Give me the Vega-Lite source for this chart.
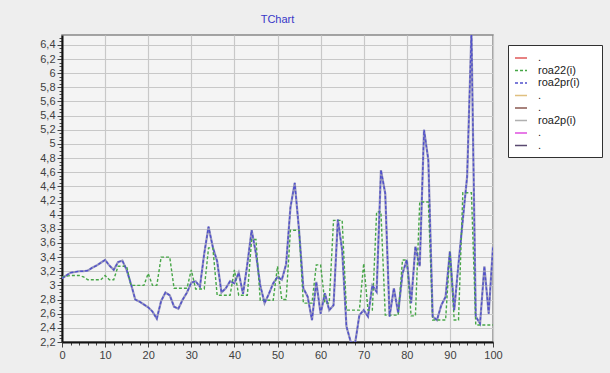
{
  "$schema": "https://vega.github.io/schema/vega-lite/v6.json",
  "width": 431,
  "height": 307,
  "autosize": {"type": "none"},
  "padding": {"left": 62, "top": 35, "right": 117, "bottom": 31},
  "background": "#eeeeee",
  "title": {"text": "TChart", "color": "#3838c8", "fontSize": 11, "font": "Liberation Sans", "fontWeight": "normal", "offset": 7},
  "config": {
    "view": {"fill": "#f4f4f4", "stroke": "#888888", "strokeWidth": 1.5},
    "axis": {"labelFont": "Liberation Sans", "labelFontSize": 11, "labelColor": "#404040", "domainColor": "#111111", "domainWidth": 2, "tickColor": "#444444", "gridColor": "#c8c8c8", "gridWidth": 1.2, "title": null, "labelOverlap": false, "tickCount": 500}
  },
  "data": {"values": [
    {"x":0,"roa22":3.12,"roa2pr":3.10},{"x":1,"roa22":3.13,"roa2pr":3.14},{"x":2,"roa22":3.14,"roa2pr":3.18},{"x":3,"roa22":3.14,"roa2pr":3.19},{"x":4,"roa22":3.14,"roa2pr":3.20},
    {"x":5,"roa22":3.12,"roa2pr":3.20},{"x":6,"roa22":3.08,"roa2pr":3.21},{"x":7,"roa22":3.08,"roa2pr":3.25},{"x":8,"roa22":3.08,"roa2pr":3.28},{"x":9,"roa22":3.08,"roa2pr":3.32},
    {"x":10,"roa22":3.14,"roa2pr":3.36},{"x":11,"roa22":3.08,"roa2pr":3.28},{"x":12,"roa22":3.08,"roa2pr":3.22},{"x":13,"roa22":3.27,"roa2pr":3.33},{"x":14,"roa22":3.27,"roa2pr":3.35},
    {"x":15,"roa22":3.27,"roa2pr":3.22},{"x":16,"roa22":3.00,"roa2pr":3.02},{"x":17,"roa22":3.00,"roa2pr":2.80},{"x":18,"roa22":3.00,"roa2pr":2.77},{"x":19,"roa22":3.00,"roa2pr":2.73},
    {"x":20,"roa22":3.17,"roa2pr":2.69},{"x":21,"roa22":3.00,"roa2pr":2.63},{"x":22,"roa22":3.00,"roa2pr":2.53},{"x":23,"roa22":3.40,"roa2pr":2.78},{"x":24,"roa22":3.40,"roa2pr":2.90},
    {"x":25,"roa22":3.40,"roa2pr":2.86},{"x":26,"roa22":2.96,"roa2pr":2.70},{"x":27,"roa22":2.96,"roa2pr":2.67},{"x":28,"roa22":2.96,"roa2pr":2.80},{"x":29,"roa22":2.96,"roa2pr":2.90},
    {"x":30,"roa22":3.22,"roa2pr":3.04},{"x":31,"roa22":2.95,"roa2pr":3.06},{"x":32,"roa22":2.95,"roa2pr":2.98},{"x":33,"roa22":2.95,"roa2pr":3.45},{"x":34,"roa22":3.53,"roa2pr":3.83},
    {"x":35,"roa22":3.53,"roa2pr":3.54},{"x":36,"roa22":2.86,"roa2pr":3.34},{"x":37,"roa22":2.86,"roa2pr":2.90},{"x":38,"roa22":2.86,"roa2pr":2.96},{"x":39,"roa22":2.86,"roa2pr":3.06},
    {"x":40,"roa22":3.22,"roa2pr":3.03},{"x":41,"roa22":2.86,"roa2pr":3.18},{"x":42,"roa22":2.86,"roa2pr":2.88},{"x":43,"roa22":2.86,"roa2pr":3.30},{"x":44,"roa22":3.65,"roa2pr":3.78},
    {"x":45,"roa22":3.65,"roa2pr":3.45},{"x":46,"roa22":2.79,"roa2pr":3.00},{"x":47,"roa22":2.79,"roa2pr":2.75},{"x":48,"roa22":2.79,"roa2pr":2.88},{"x":49,"roa22":2.79,"roa2pr":3.03},
    {"x":50,"roa22":3.27,"roa2pr":3.12},{"x":51,"roa22":2.80,"roa2pr":3.08},{"x":52,"roa22":2.80,"roa2pr":3.30},{"x":53,"roa22":3.78,"roa2pr":4.10},{"x":54,"roa22":3.78,"roa2pr":4.45},
    {"x":55,"roa22":3.78,"roa2pr":3.78},{"x":56,"roa22":2.75,"roa2pr":2.96},{"x":57,"roa22":2.75,"roa2pr":2.84},{"x":58,"roa22":2.75,"roa2pr":2.51},{"x":59,"roa22":3.29,"roa2pr":3.05},
    {"x":60,"roa22":3.29,"roa2pr":2.60},{"x":61,"roa22":2.75,"roa2pr":2.89},{"x":62,"roa22":2.75,"roa2pr":2.65},{"x":63,"roa22":3.92,"roa2pr":2.72},{"x":64,"roa22":3.92,"roa2pr":3.93},
    {"x":65,"roa22":3.92,"roa2pr":3.50},{"x":66,"roa22":2.65,"roa2pr":2.42},{"x":67,"roa22":2.65,"roa2pr":2.20},{"x":68,"roa22":2.65,"roa2pr":2.18},{"x":69,"roa22":2.65,"roa2pr":2.58},
    {"x":70,"roa22":3.31,"roa2pr":2.65},{"x":71,"roa22":2.65,"roa2pr":2.56},{"x":72,"roa22":2.65,"roa2pr":3.00},{"x":73,"roa22":4.04,"roa2pr":2.91},{"x":74,"roa22":4.04,"roa2pr":4.63},
    {"x":75,"roa22":2.58,"roa2pr":4.30},{"x":76,"roa22":2.58,"roa2pr":2.56},{"x":77,"roa22":2.58,"roa2pr":2.96},{"x":78,"roa22":2.58,"roa2pr":2.61},{"x":79,"roa22":3.36,"roa2pr":3.17},
    {"x":80,"roa22":3.36,"roa2pr":3.36},{"x":81,"roa22":2.57,"roa2pr":2.75},{"x":82,"roa22":2.57,"roa2pr":3.55},{"x":83,"roa22":4.18,"roa2pr":3.27},{"x":84,"roa22":4.18,"roa2pr":5.20},
    {"x":85,"roa22":4.18,"roa2pr":4.77},{"x":86,"roa22":2.51,"roa2pr":2.56},{"x":87,"roa22":2.51,"roa2pr":2.51},{"x":88,"roa22":2.51,"roa2pr":2.72},{"x":89,"roa22":2.51,"roa2pr":2.84},
    {"x":90,"roa22":3.48,"roa2pr":3.48},{"x":91,"roa22":2.51,"roa2pr":2.65},{"x":92,"roa22":2.51,"roa2pr":3.31},{"x":93,"roa22":4.31,"roa2pr":3.93},{"x":94,"roa22":4.31,"roa2pr":4.54},
    {"x":95,"roa22":4.31,"roa2pr":6.60},{"x":96,"roa22":2.44,"roa2pr":2.56},{"x":97,"roa22":2.44,"roa2pr":2.46},{"x":98,"roa22":2.44,"roa2pr":3.27},{"x":99,"roa22":2.44,"roa2pr":2.60},
    {"x":100,"roa22":2.44,"roa2pr":3.55}
  ]},
  "encoding": {
    "x": {"field": "x", "type": "quantitative", "scale": {"domain": [0, 100], "nice": false},
      "axis": {"values": [0,2,4,6,8,10,12,14,16,18,20,22,24,26,28,30,32,34,36,38,40,42,44,46,48,50,52,54,56,58,60,62,64,66,68,70,72,74,76,78,80,82,84,86,88,90,92,94,96,98,100],
        "tickCount": 500, "format": "d",
        "labelExpr": "datum.value % 10 == 0 ? '' + datum.value : ''",
        "gridOpacity": {"condition": {"test": "datum.value % 10 == 0", "value": 1}, "value": 0},
        "tickSize": {"condition": {"test": "datum.value % 10 == 0", "value": 5}, "value": 3},
        "labelPadding": 2, "labelFlush": false, "labelOverlap": false}}
  },
  "layer": [
    {
      "mark": {"type": "line", "color": "#9494bc", "strokeWidth": 2.2, "clip": true},
      "encoding": {
        "y": {"field": "roa2pr", "type": "quantitative", "scale": {"domain": [2.2, 6.54], "nice": false, "zero": false},
          "axis": {"values": [2.2,2.25,2.3,2.35,2.4,2.45,2.5,2.55,2.6,2.65,2.7,2.75,2.8,2.85,2.9,2.95,3,3.05,3.1,3.15,3.2,3.25,3.3,3.35,3.4,3.45,3.5,3.55,3.6,3.65,3.7,3.75,3.8,3.85,3.9,3.95,4,4.05,4.1,4.15,4.2,4.25,4.3,4.35,4.4,4.45,4.5,4.55,4.6,4.65,4.7,4.75,4.8,4.85,4.9,4.95,5,5.05,5.1,5.15,5.2,5.25,5.3,5.35,5.4,5.45,5.5,5.55,5.6,5.65,5.7,5.75,5.8,5.85,5.9,5.95,6,6.05,6.1,6.15,6.2,6.25,6.3,6.35,6.4,6.45,6.5],
            "tickCount": 500,
            "labelExpr": "abs(datum.value*5 - round(datum.value*5)) < 0.001 ? replace('' + round(datum.value*10)/10, '.', ',') : ''",
            "gridOpacity": {"condition": {"test": "abs(datum.value*5 - round(datum.value*5)) < 0.001", "value": 1}, "value": 0},
            "tickSize": {"condition": {"test": "abs(datum.value*5 - round(datum.value*5)) < 0.001", "value": 5}, "value": 3},
            "labelPadding": 2, "labelFlush": false, "labelOverlap": false}}
      }
    },
    {
      "transform": [{"fold": ["roa22", "roa2pr"], "as": ["series", "v"]}],
      "mark": {"type": "line", "strokeWidth": 1.4, "clip": true},
      "encoding": {
        "y": {"field": "v", "type": "quantitative"},
        "color": {"field": "series", "type": "nominal",
          "scale": {"domain": [".1", "roa22", "roa2pr", ".2", ".3", "roa2p", ".4", ".5"],
                    "range": ["#e05a5a", "#46a646", "#5050cc", "#e0c080", "#8a5a52", "#b0b0b0", "#e050e0", "#5a4a70"]},
          "legend": {"orient": "none", "legendX": 446, "legendY": 10, "title": "M",
            "titleOrient": "right", "titleOpacity": 0, "titleFontSize": 11, "titlePadding": 6,
            "fillColor": "#ffffff", "strokeColor": "#303030", "padding": 6,
            "symbolType": "stroke", "symbolSize": 144, "symbolStrokeWidth": 1.6,
            "labelFont": "Liberation Sans", "labelFontSize": 11, "labelColor": "#202020",
            "rowPadding": 0.5, "labelOffset": 10,
            "labelExpr": "indexof(datum.label, '.') == 0 ? '.' : datum.label + '(i)'"}},
        "strokeDash": {"field": "series", "type": "nominal",
          "scale": {"domain": [".1", "roa22", "roa2pr", ".2", ".3", "roa2p", ".4", ".5"],
                    "range": [[1,0],[3,2],[3,2],[1,0],[1,0],[1,0],[1,0],[1,0]]},
          "legend": {"orient": "none", "legendX": 446, "legendY": 10, "title": "M",
            "labelExpr": "indexof(datum.label, '.') == 0 ? '.' : datum.label + '(i)'"}}
      }
    }
  ]
}
